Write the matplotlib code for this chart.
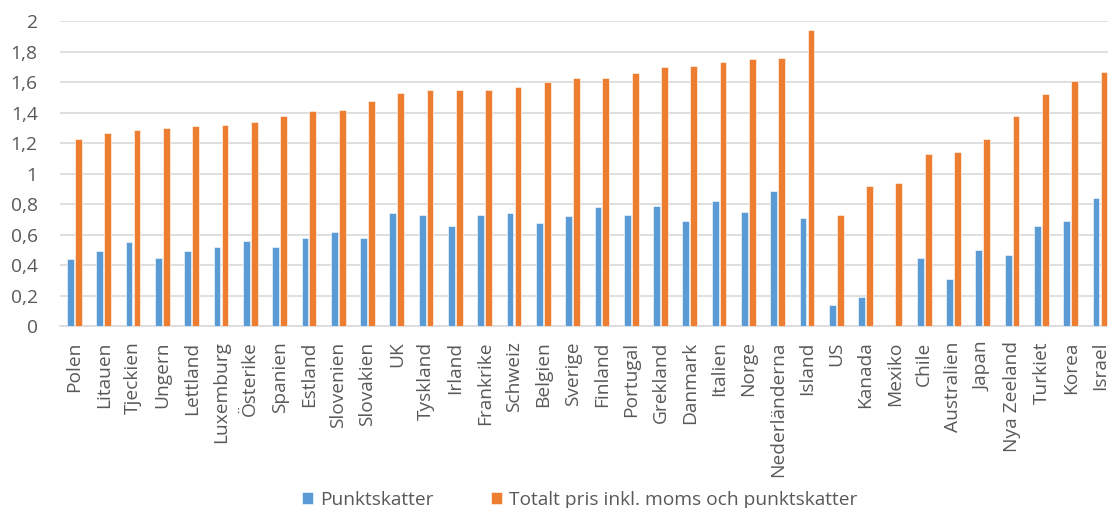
import numpy as np
from matplotlib import pyplot as plt
from matplotlib.ticker import FuncFormatter

plt.rcParams['font.family'] = ['Open Sans', 'DejaVu Sans']

lander = ["Polen", "Litauen", "Tjeckien", "Ungern", "Lettland", "Luxemburg",
          "Österike", "Spanien", "Estland", "Slovenien", "Slovakien", "UK",
          "Tyskland", "Irland", "Frankrike", "Schweiz", "Belgien", "Sverige",
          "Finland", "Portugal", "Grekland", "Danmark", "Italien", "Norge",
          "Nederländerna", "Island", "US", "Kanada", "Mexiko", "Chile",
          "Australien", "Japan", "Nya Zeeland", "Turkiet", "Korea", "Israel"]

punktskatter = [0.44, 0.49, 0.55, 0.45, 0.49, 0.52, 0.56, 0.52, 0.58, 0.62,
                0.58, 0.74, 0.73, 0.66, 0.73, 0.74, 0.68, 0.72, 0.78, 0.73,
                0.79, 0.69, 0.82, 0.75, 0.885, 0.71, 0.14, 0.19, 0.0, 0.45,
                0.31, 0.50, 0.47, 0.66, 0.69, 0.84]

totalt_pris = [1.23, 1.27, 1.29, 1.30, 1.31, 1.32, 1.34, 1.38, 1.41, 1.42,
               1.48, 1.53, 1.55, 1.55, 1.55, 1.57, 1.60, 1.63, 1.63, 1.66,
               1.70, 1.71, 1.73, 1.75, 1.76, 1.945, 0.73, 0.92, 0.94, 1.13,
               1.14, 1.23, 1.38, 1.52, 1.61, 1.67]

BLA = "#5B9BD5"
ORANGE = "#ED7D31"
GRA_TEXT = "#595959"
GRA_RUTNAT = "#D9D9D9"

fig = plt.figure(figsize=(11.08, 5.08), dpi=100)
# axeln går ut förbi högerkanten, sista kategorin skärs av
ax = fig.add_axes([0.054, 0.358, 0.952, 0.600])

x = np.arange(len(lander))
bredd = 0.23
ax.bar(x - 0.135, punktskatter, bredd, color=BLA, label="Punktskatter",
       edgecolor="white", linewidth=0.4, zorder=3)
ax.bar(x + 0.135, totalt_pris, bredd, color=ORANGE,
       label="Totalt pris inkl. moms och punktskatter",
       edgecolor="white", linewidth=0.4, zorder=3)

ax.set_xlim(-0.5, len(lander) - 0.5)
ax.set_ylim(0, 2)
ax.set_yticks(np.arange(0, 2.01, 0.2))
ax.yaxis.set_major_formatter(FuncFormatter(
    lambda v, p: ("%g" % round(v, 1)).replace(".", ",")))
ax.grid(axis="y", color=GRA_RUTNAT, linewidth=1.2, zorder=0)

ax.set_xticks(x)
ax.set_xticklabels(lander, rotation=90, va="top", ha="center")
ax.tick_params(axis="both", length=0, colors=GRA_TEXT, labelsize=13.8)
ax.tick_params(axis="x", pad=11)
ax.tick_params(axis="y", pad=16)

for s in ["top", "right", "left"]:
    ax.spines[s].set_visible(False)
ax.spines["bottom"].set_color(GRA_RUTNAT)
ax.spines["bottom"].set_linewidth(1.2)

leg = fig.legend(loc="lower center", bbox_to_anchor=(0.523, -0.035), ncol=2,
                 frameon=False, fontsize=13.8, handlelength=0.6, handleheight=0.6,
                 handletextpad=0.35, columnspacing=3.0)
for t in leg.get_texts():
    t.set_color(GRA_TEXT)

fig.savefig("out.png", dpi=100)
